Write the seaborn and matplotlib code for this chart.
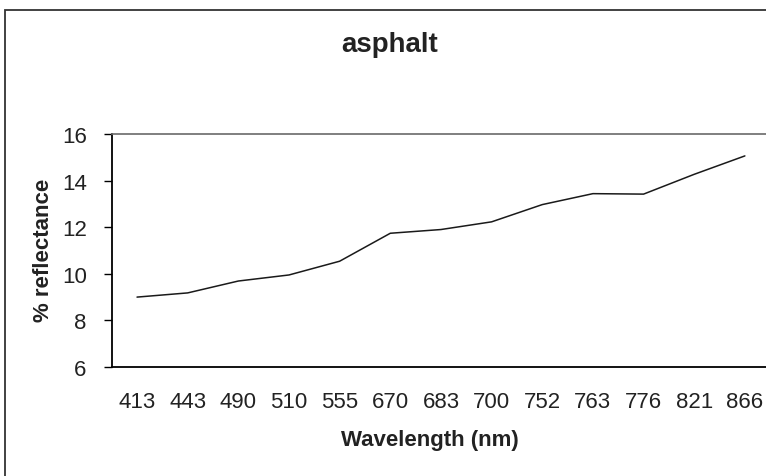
import matplotlib
matplotlib.use("Agg")
import matplotlib.pyplot as plt
from matplotlib.patches import Rectangle
from matplotlib.ticker import FixedLocator, NullFormatter
import seaborn as sns
import pandas as pd

wavelengths = ["413", "443", "490", "510", "555", "670", "683", "700",
               "752", "763", "776", "821", "866"]
reflectance = [9.00, 9.18, 9.69, 9.95, 10.54, 11.74, 11.90, 12.23,
               12.97, 13.44, 13.42, 14.27, 15.06]
y_ticks = [6, 8, 10, 12, 14, 16]

sns.set_theme(style="white")
plt.rcParams["font.family"] = ["Liberation Sans", "DejaVu Sans"]

W, H = 766, 477
fig = plt.figure(figsize=(W / 100, H / 100), dpi=100)
fig.patch.set_facecolor("white")

# outer chart frame (cropped at right and bottom)
fig.patches.append(Rectangle((5 / W, -0.1), 1.2, (H - 11) / H + 0.1,
                             transform=fig.transFigure, fill=False,
                             edgecolor="#333333", linewidth=1.3))

ax = fig.add_axes([111.7 / W, (H - 368) / H, 658.5 / W, 233 / H])
df = pd.DataFrame({"Wavelength": wavelengths, "Reflectance": reflectance})
df["pos"] = range(len(df))
sns.lineplot(data=df, x="pos", y="Reflectance", ax=ax, color="#1a1a1a",
             linewidth=1.1, sort=False)

ax.set_xlim(-0.5, len(wavelengths) - 0.5)
ax.set_ylim(6, 16)
ax.set_yticks(y_ticks)
ax.set_xticks(range(len(wavelengths)))
ax.set_xticklabels(wavelengths)
ax.xaxis.set_minor_locator(FixedLocator([i - 0.5 for i in range(len(wavelengths) + 1)]))
ax.xaxis.set_minor_formatter(NullFormatter())
ax.tick_params(axis="x", which="major", length=0, pad=17, labelsize=16, colors="#222222")
ax.tick_params(axis="x", which="minor", length=6, width=1.0, color="black", direction="out")
ax.tick_params(axis="y", which="major", length=6, width=1.0, color="black",
               direction="out", pad=12, labelsize=16, labelcolor="#222222", left=True)
ax.grid(False)

for side in ["left", "bottom"]:
    ax.spines[side].set_color("black")
    ax.spines[side].set_linewidth(1.3)
for side in ["top", "right"]:
    ax.spines[side].set_color("#6a6a6a")
    ax.spines[side].set_linewidth(1.2)

ax.set_xlabel("Wavelength (nm)", fontsize=16, fontweight="bold", color="#222222", va="center")
ax.xaxis.set_label_coords((429.5 - 111.7) / 658.5, -(441 - 368) / 233)
ax.set_ylabel("% reflectance", fontsize=16, fontweight="bold", color="#222222", va="center")
ax.yaxis.set_label_coords(-(111.7 - 44) / 658.5, (368 - 250) / 233)

fig.text(390 / W, 1 - 45 / H, "asphalt", ha="center", va="center",
         fontsize=20, fontweight="bold", color="#222222")

fig.savefig("out.png", dpi=100, facecolor="white")
